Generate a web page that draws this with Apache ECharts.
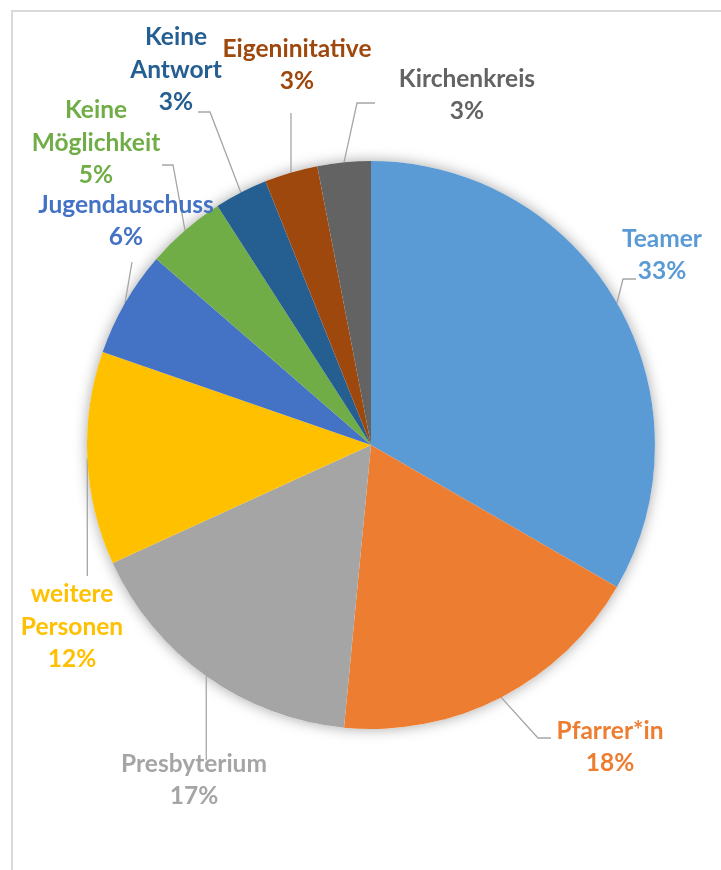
<!DOCTYPE html>
<html><head><meta charset="utf-8">
<script src="https://cdn.jsdelivr.net/npm/echarts@6/dist/echarts.min.js"></script>
<style>html,body{margin:0;padding:0;background:#fff}#chart{width:721px;height:870px}</style>
</head><body><div id="chart"></div>
<script>
// ---- data ----
const categories = ['Teamer', 'Pfarrer*in', 'Presbyterium', 'weitere Personen', 'Jugendauschuss',
  'Keine Möglichkeit', 'Keine Antwort', 'Eigeninitative', 'Kirchenkreis'];
const responses = [22, 12, 11, 8, 4, 3, 2, 2, 2];

// ---- styles / layout ----
const colors = ['#5B9BD5', '#ED7D31', '#A5A5A5', '#FFC000', '#4472C4', '#70AD47', '#255E91', '#9E480E', '#636363'];
const labelCenters = [[662, 255], [610, 747], [194, 780], [72, 627], [126, 221], [96, 143], [176, 70], [297, 65], [467, 95]];
// leader line: elbow and end (null x = same x as the anchor on the pie edge)
const leaderElbows = [[623, 279], [538, 738], [null, 760], [null, 576], [132, 262], [173, 165], [210, 112], [null, 113], [357, 103]];
const leaderEnds   = [[636, 279], [551, 738], [null, 760], [null, 576], [132, 262], [162, 165], [198, 112], [null, 113], [375, 103]];

const pieCenter = [371, 445];
const pieRadius = 284;
const total = responses.reduce((a, b) => a + b, 0);

const chart = echarts.init(document.getElementById('chart'), null, {renderer: 'canvas'});
chart.setOption({
  backgroundColor: '#ffffff',
  animation: false,
  graphic: [{
    type: 'rect', silent: true, z: 0,
    shape: {x: 12, y: 11, width: 730, height: 880},
    style: {fill: 'none', stroke: '#d9d9d9', lineWidth: 2}
  }],
  series: [
    {
      // soft shadow disc under the pie
      type: 'pie', silent: true, z: 1,
      center: pieCenter, radius: pieRadius,
      label: {show: false}, labelLine: {show: false},
      data: [{value: total, itemStyle: {color: '#ffffff', shadowBlur: 14, shadowColor: 'rgba(0,0,0,0.35)'}}]
    },
    {
      type: 'pie', z: 2,
      center: pieCenter, radius: pieRadius,
      startAngle: 90, clockwise: true,
      percentPrecision: 0,
      avoidLabelOverlap: false,
      itemStyle: {borderWidth: 0},
      label: {
        show: true, position: 'outside', overflow: 'none', edgeDistance: 0, bleedMargin: 0,
        fontFamily: 'Lato', fontWeight: 'bold', fontSize: 24.5, lineHeight: 32.5,
        align: 'center',
        formatter: p => p.name.replace(/ /g, '\n') + '\n' + p.percent + '%'
      },
      labelLine: {show: true, length: 10, length2: 10, smooth: false,
        lineStyle: {color: '#a6a6a6', width: 1.3}},
      labelLayout: function (params) {
        const i = params.dataIndex;
        const c = labelCenters[i];
        let anchor = params.labelLinePoints && params.labelLinePoints[0];
        if (!anchor) {
          let before = 0;
          for (let k = 0; k < i; k++) before += responses[k];
          const a = (before + responses[i] / 2) / total * 2 * Math.PI;
          anchor = [pieCenter[0] + pieRadius * Math.sin(a), pieCenter[1] - pieRadius * Math.cos(a)];
        }
        const el = leaderElbows[i], en = leaderEnds[i];
        const elbow = [el[0] == null ? anchor[0] : el[0], el[1]];
        const end = [en[0] == null ? anchor[0] : en[0], en[1]];
        return {
          x: c[0], y: c[1], align: 'center', verticalAlign: 'middle',
          labelLinePoints: [anchor, elbow, end]
        };
      },
      data: categories.map((name, i) => ({
        name: name, value: responses[i],
        itemStyle: {color: colors[i]},
        label: {color: colors[i]}
      }))
    }
  ]
});
</script>
</body></html>
